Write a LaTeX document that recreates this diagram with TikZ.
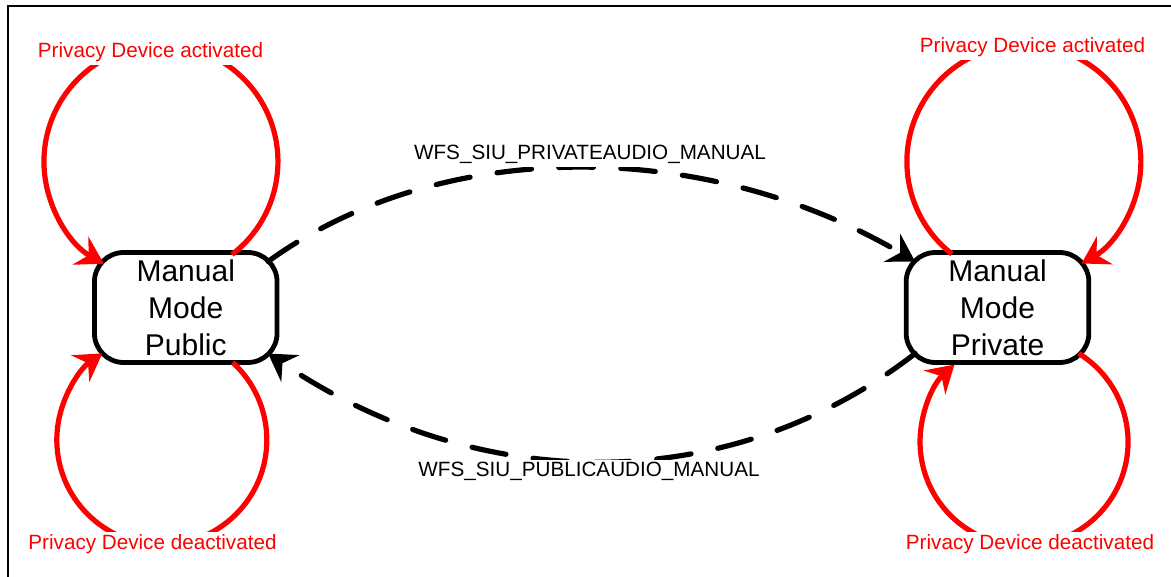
\documentclass[tikz,border=0pt]{standalone}
\usepackage{fontspec}
\setmainfont{Liberation Sans}
\usetikzlibrary{arrows.meta}
\begin{document}
\begin{tikzpicture}[x=0.75pt,y=-0.75pt,
  state/.style={draw, line width=3.6pt, rounded corners=22pt, minimum width=137pt, minimum height=82.5pt, align=center, font=\fontsize{22.5}{27.75}\selectfont, inner sep=0pt, outer sep=0pt, fill=white},
  tip/.style={-{Stealth[length=20pt,width=24pt,inset=7pt]}},
  loopred/.style={red, line width=3.9pt, tip},
  trans/.style={black, line width=3.9pt, line cap=round, dash pattern=on 26pt off 20.5pt, tip},
  lbl/.style={font=\fontsize{15.5}{18}\selectfont, fill=white, inner sep=2pt, anchor=base},
  redlbl/.style={lbl, text=red}]
\useasboundingbox (0,0) rectangle (1171,577);
\draw[line width=1.5pt] (7.8,577) -- (7.8,6.2) -- (1171,6.2);
\node[state] (L) at (185.75,307.5) {Manual\\Mode\\Public};
\node[state] (R) at (997.5,307.5) {Manual\\Mode\\Private};
% self loops
\draw[loopred] ([shift={(46.25,2)}]L.north) arc[start angle=52.6, end angle=-240.8, radius=117];
\draw[loopred] ([shift={(47,0)}]L.south) arc[start angle=-47.5, end angle=235.5, radius=105];
\draw[loopred] ([shift={(-45.5,1.5)}]R.north) arc[start angle=127.9, end angle=420.5, radius=117];
\draw[loopred] ([shift={(-10,-9)}]R.south east) arc[start angle=-58.2, end angle=228, radius=104];
% transitions
\draw[trans] ([shift={(-9,9)}]L.north east) .. controls (440,137) and (704,137) .. ([shift={(9,9)}]R.north west);
\draw[trans] ([shift={(9,-9)}]R.south west) .. controls (730,497) and (480,497) .. ([shift={(-9,-9)}]L.south east);
% labels
\node[redlbl] (la1) at (150.5,58) {Privacy Device activated};
\node[redlbl] (la2) at (152.5,549.3) {Privacy Device deactivated};
\node[redlbl] (lb1) at (1032.5,53) {Privacy Device activated};
\node[redlbl] (lb2) at (1030,549.3) {Privacy Device deactivated};
\node[lbl] (t1) at (590,160) {WFS\_SIU\_PRIVATEAUDIO\_MANUAL};
\node[lbl] (t2) at (589,476.7) {WFS\_SIU\_PUBLICAUDIO\_MANUAL};
\end{tikzpicture}
\end{document}
